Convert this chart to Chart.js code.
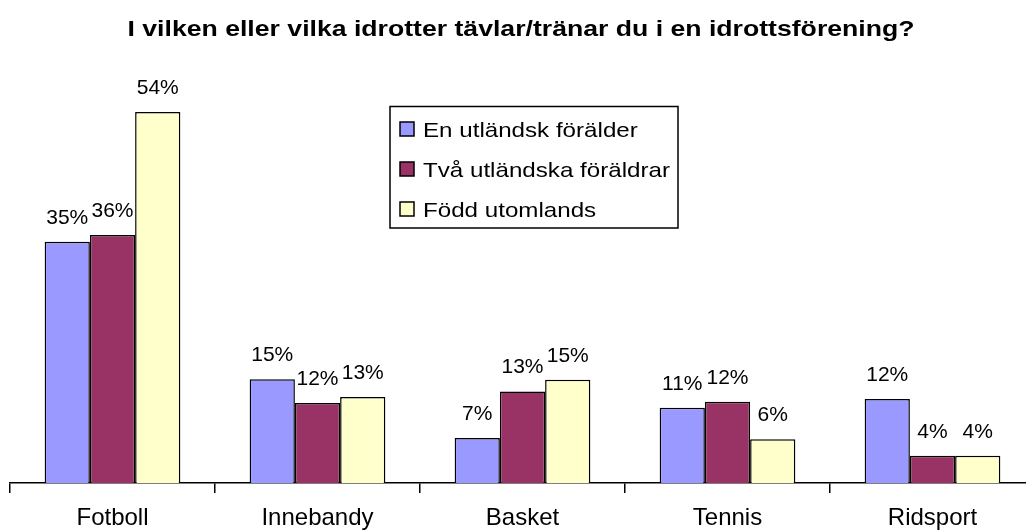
<!DOCTYPE html>
<html>
<head>
<meta charset="utf-8">
<script src="https://cdn.jsdelivr.net/npm/chart.js@4/dist/chart.umd.min.js"></script>
<style>
  body { margin: 0; background: #fff; overflow: hidden; }
  #wrap { width: 1040px; height: 532px; }
</style>
</head>
<body>
<div id="wrap"><canvas id="sportChart" width="1040" height="532"></canvas></div>
<script>
// data (percent)
const chartTitle = "I vilken eller vilka idrotter tävlar/tränar du i en idrottsförening?";
const sports = ["Fotboll", "Innebandy", "Basket", "Tennis", "Ridsport"];
const seriesNames = ["En utländsk förälder", "Två utländska föräldrar", "Född utomlands"];
const enForalder = [35.3, 15.2, 6.6, 11.0, 12.3];
const tvaForaldrar = [36.3, 11.7, 13.4, 11.9, 4.0];
const foddUtomlands = [54.3, 12.6, 15.1, 6.4, 4.0];
const seriesColors = ["#9999FF", "#993366", "#FFFFCC"];

const FONT = "'Liberation Sans', Arial, sans-serif";

// title drawn a bit stretched, like the original picture
const titlePlugin = {
    id: "stretchedTitle",
    afterDraw(chart) {
        const ctx = chart.ctx;
        ctx.save();
        ctx.font = "bold 22px " + FONT;
        ctx.fillStyle = "#000";
        ctx.textAlign = "center";
        ctx.textBaseline = "alphabetic";
        ctx.translate(521, 36);
        ctx.scale(1.21, 1);
        ctx.fillText(chartTitle, 0, 0);
        ctx.restore();
    }
};

// percent labels above every bar
const valueLabels = {
    id: "valueLabels",
    afterDatasetsDraw(chart) {
        const ctx = chart.ctx;
        ctx.save();
        ctx.font = "21px " + FONT;
        ctx.fillStyle = "#000";
        ctx.textAlign = "center";
        ctx.textBaseline = "alphabetic";
        chart.data.datasets.forEach((ds, i) => {
            chart.getDatasetMeta(i).data.forEach((bar, j) => {
                ctx.fillText(Math.round(ds.data[j]) + "%", bar.x, bar.y - 18);
            });
        });
        ctx.restore();
    }
};

// boxed legend inside the plot, built from the datasets
const boxLegend = {
    id: "boxLegend",
    afterDraw(chart) {
        const ctx = chart.ctx;
        ctx.save();
        ctx.lineWidth = 1.5;
        ctx.strokeStyle = "#000";
        ctx.strokeRect(390, 106.5, 288, 121.5);
        ctx.font = "21px " + FONT;
        ctx.textBaseline = "alphabetic";
        chart.data.datasets.forEach((ds, i) => {
            const base = 137 + i * 40;
            ctx.fillStyle = ds.backgroundColor;
            ctx.fillRect(400, base - 15, 14, 14);
            ctx.strokeRect(400, base - 15, 14, 14);
            ctx.fillStyle = "#000";
            ctx.save();
            ctx.translate(423, base);
            ctx.scale(1.15, 1);
            ctx.fillText(ds.label, 0, 0);
            ctx.restore();
        });
        ctx.restore();
    }
};

const seriesData = [enForalder, tvaForaldrar, foddUtomlands];

const config = {
    type: "bar",
    data: {
        labels: sports,
        datasets: seriesNames.map((name, i) => ({
            label: name,
            data: seriesData[i],
            backgroundColor: seriesColors[i],
            borderColor: "#000",
            borderWidth: 1.5,
            categoryPercentage: 0.662,
            barPercentage: 1.0
        }))
    },
    options: {
        responsive: false,
        animation: false,
        devicePixelRatio: 1,
        layout: {
            // axis height is tickLength + font + 2 * tick padding
            padding: { left: 10, right: 5, top: 73, bottom: -11 }
        },
        plugins: {
            legend: { display: false },
            title: { display: false },
            tooltip: { enabled: false }
        },
        scales: {
            x: {
                grid: {
                    display: true,
                    drawOnChartArea: false,
                    drawTicks: true,
                    tickLength: 10,
                    color: "#000",
                    lineWidth: 1.5,
                    offset: true
                },
                border: { display: true, color: "#000", width: 1.5 },
                ticks: {
                    color: "#000",
                    font: { family: FONT, size: 24, lineHeight: 1 },
                    padding: 13,
                    maxRotation: 0,
                    autoSkip: false
                }
            },
            y: {
                display: false,
                min: 0,
                max: 60
            }
        }
    },
    plugins: [valueLabels, boxLegend, titlePlugin]
};

const ctx = document.getElementById("sportChart").getContext("2d");
const sportChart = new Chart(ctx, config);
</script>
</body>
</html>
